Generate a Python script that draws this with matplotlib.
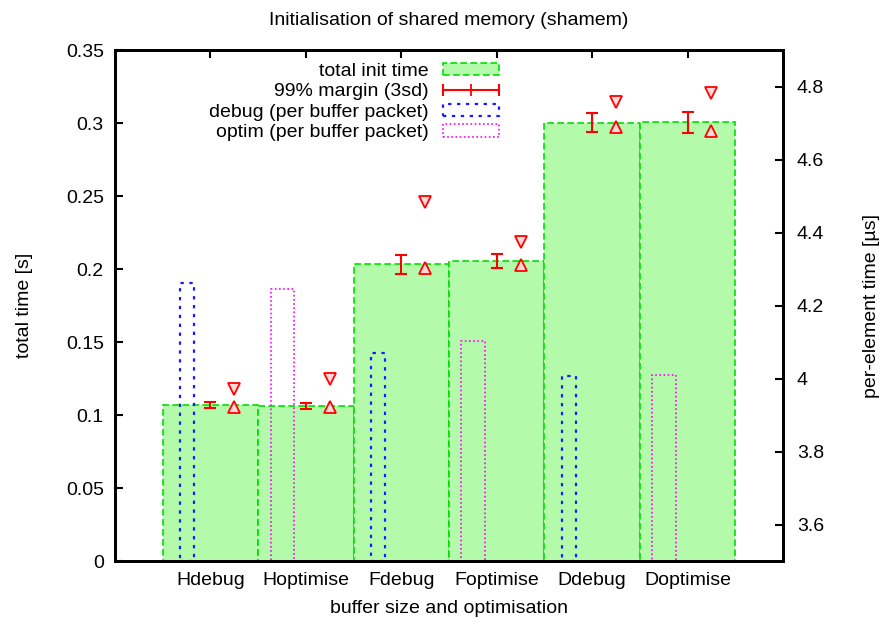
import numpy as np
import matplotlib
matplotlib.use("Agg")
import matplotlib.pyplot as plt
from matplotlib.patches import Patch
from matplotlib.lines import Line2D
from matplotlib.legend_handler import HandlerLine2D, HandlerTuple

plt.rcParams['font.family'] = ['Liberation Sans', 'DejaVu Sans']
plt.rcParams['font.size'] = 14

# data
categories = ['Hdebug', 'Hoptimise', 'Fdebug', 'Foptimise', 'Ddebug', 'Doptimise']
total_time = [0.1068, 0.1062, 0.2034, 0.2055, 0.3002, 0.3006]      # s
margin_center = [0.1068, 0.1062, 0.2031, 0.2055, 0.3003, 0.3003]
margin_err = [0.0023, 0.0023, 0.0067, 0.0050, 0.0063, 0.0073]
debug_idx = [0, 2, 4]
debug_packet = [0.1904, 0.1425, 0.1267]
optim_idx = [1, 3, 5]
optim_packet = [0.1863, 0.1507, 0.1274]
per_elem_min = [3.921, 3.921, 4.303, 4.310, 4.690, 4.678]   # us
per_elem_max = [3.971, 3.998, 4.484, 4.374, 4.758, 4.783]

x = np.arange(len(categories))

fig = plt.figure(figsize=(8.81, 6.26), dpi=100)
ax = fig.add_subplot(111)
fig.subplots_adjust(left=0.1305, right=0.8888, top=0.9201, bottom=0.1038)

green_fill = '#b3fbab'
green_edge = '#00e000'

ax.bar(x, total_time, width=1.0, color=green_fill, edgecolor=green_edge,
       linestyle=(0, (4, 2)), linewidth=1.2, zorder=1)
ax.bar(x[debug_idx] - 0.245, debug_packet, width=0.15, facecolor='none',
       edgecolor='#1a1aff', linestyle=(0, (1.5, 2.5)), linewidth=1.6, zorder=2)
ax.bar(x[optim_idx] - 0.245, optim_packet, width=0.25, facecolor='none',
       edgecolor='#ff00ff', linestyle=(0, (1, 1.5)), linewidth=1.2, zorder=2)
ax.errorbar(x, margin_center, yerr=margin_err, fmt='none', ecolor='red',
            elinewidth=1.5, capsize=4, capthick=1.5, zorder=4)

ax.set_xlim(-1, 6)
ax.set_ylim(0, 0.35)
ax.set_yticks(np.arange(0, 0.351, 0.05))
ax.set_yticklabels(['0', '0.05', '0.1', '0.15', '0.2', '0.25', '0.3', '0.35'])
ax.set_xticks(x)
ax.set_xticklabels(categories)
ax.tick_params(axis='x', direction='in', length=0, pad=8, top=True)
ax.tick_params(axis='y', direction='in', length=6, width=1.5, pad=8)
ax.set_xlabel('buffer size and optimisation', labelpad=8)
ax.set_ylabel('total time [s]', labelpad=24)
ax.set_title('Initialisation of shared memory (shamem)', pad=18, fontsize=14)

# top mirror ticks
sec = ax.secondary_xaxis('top')
sec.set_xticks(x)
sec.set_xticklabels([])
sec.tick_params(direction='in', length=6, width=1.5)

ax2 = ax.twinx()
ax2.plot(x + 0.25, per_elem_min, linestyle='none', marker='^', ms=8,
         mfc='#ffd8d8', mec='red', mew=1.3, zorder=5)
ax2.plot(x + 0.25, per_elem_max, linestyle='none', marker='v', ms=8,
         mfc='#ffd8d8', mec='red', mew=1.3, zorder=5)
ax2.set_ylim(3.5, 4.9)
ax2.set_yticks([3.6, 3.8, 4.0, 4.2, 4.4, 4.6, 4.8])
ax2.set_yticklabels(['3.6', '3.8', '4', '4.2', '4.4', '4.6', '4.8'])
ax2.tick_params(axis='y', direction='in', length=6, width=1.5, pad=10)
ax2.set_ylabel('per-element time [µs]', labelpad=28)

for a in (ax, ax2):
    for s in a.spines.values():
        s.set_linewidth(2)
sec.spines['top'].set_linewidth(2)

# legend, gnuplot style
h_total = Patch(facecolor=green_fill, edgecolor=green_edge, linestyle=(0, (4, 2)), linewidth=1.2)
h_line = Line2D([], [], color='red', linewidth=1.5, marker='|', ms=9, mew=1.5)
h_plus = Line2D([], [], color='red', linewidth=0, marker='+', ms=8, mew=1.3)
h_debug = Patch(facecolor='none', edgecolor='#1a1aff', linestyle=(0, (1.5, 2.5)), linewidth=1.6)
h_optim = Patch(facecolor='none', edgecolor='#ff00ff', linestyle=(0, (1, 1.5)), linewidth=1.2)
leg = ax.legend([h_total, (h_line, h_plus), h_debug, h_optim],
                ['total init time', '99% margin (3sd)',
                 'debug (per buffer packet)', 'optim (per buffer packet)'],
                handler_map={h_line: HandlerLine2D(numpoints=2, marker_pad=0),
                             h_plus: HandlerLine2D(numpoints=1),
                             tuple: HandlerTuple(ndivide=1, pad=0)},
                loc='upper right', bbox_to_anchor=(0.575, 0.975),
                frameon=False, markerfirst=False, alignment='right',
                borderpad=0, borderaxespad=0, labelspacing=0.18,
                handlelength=2.9, handleheight=0.6, handletextpad=0.7)
leg.set_zorder(10)

fig.savefig('out.png', dpi=100)
